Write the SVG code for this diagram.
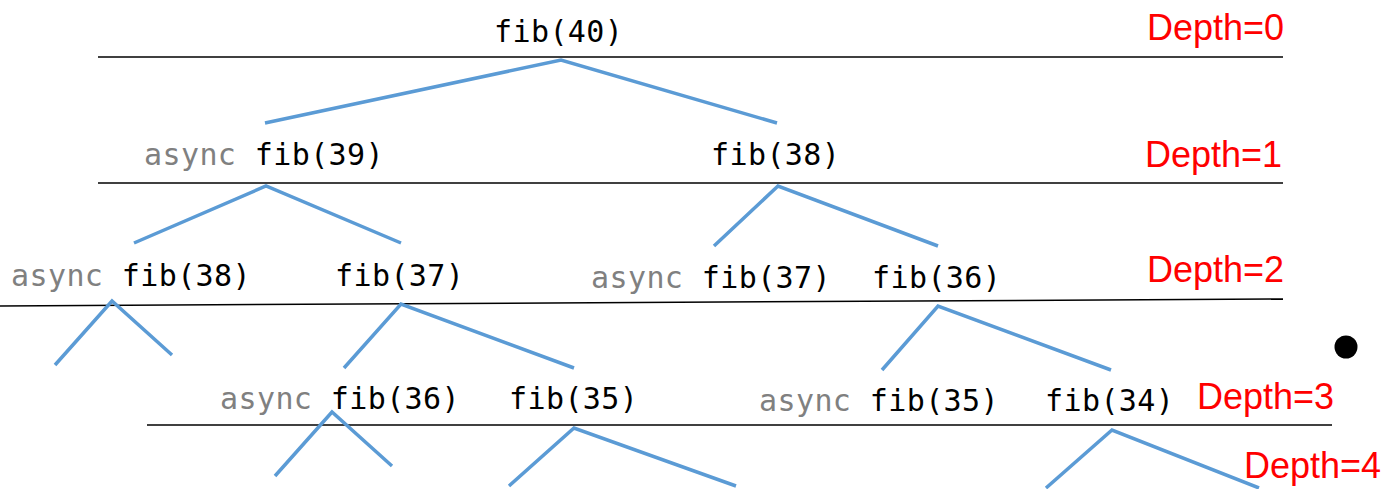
<svg xmlns="http://www.w3.org/2000/svg" width="1384" height="489" viewBox="0 0 1384 489">
<style>
.lvl{stroke:#000;stroke-width:1.5;fill:none}
.edge{stroke:#5B9BD5;stroke-width:3.5;fill:none}
.n{font-family:"DejaVu Sans Mono","Liberation Mono",monospace;font-size:30px;letter-spacing:0.4px;fill:#000}
.a{fill:#808080}
.d{font-family:"Liberation Sans",Arial,sans-serif;font-size:36px;fill:#FF0000;text-anchor:end}
</style>
<rect width="1384" height="489" fill="#fff"/>
<g id="levels">
<line class="lvl" x1="98" y1="57" x2="1283" y2="57"/>
<line class="lvl" x1="98" y1="183" x2="1283" y2="183"/>
<line class="lvl" x1="0" y1="306" x2="1283" y2="299"/>
<line class="lvl" x1="147" y1="425" x2="1332" y2="425"/>
</g>
<g id="connectors">
<polyline class="edge" points="265,123 561,60 777,123"/>
<polyline class="edge" points="134,243 266,186 401,243"/>
<polyline class="edge" points="714,246 778,186 938,246"/>
<polyline class="edge" points="55,365 112,301 172,355"/>
<polyline class="edge" points="344,368 401,304 574,368"/>
<polyline class="edge" points="882,370 938,306 1111,370"/>
<polyline class="edge" points="275,476 332,412 392,466"/>
<polyline class="edge" points="509,486 574,428 736,486"/>
<polyline class="edge" points="1046,488 1112,430 1259,488"/>
</g>
<g id="fib40"><text class="n" x="494" y="42">fib(40)</text></g>
<g id="fib39"><text class="n" x="144" y="165"><tspan class="a">async</tspan> fib(39)</text></g>
<g id="fib38a"><text class="n" x="711" y="165">fib(38)</text></g>
<g id="fib38b"><text class="n" x="11" y="286"><tspan class="a">async</tspan> fib(38)</text></g>
<g id="fib37a"><text class="n" x="335" y="286">fib(37)</text></g>
<g id="fib37b"><text class="n" x="591" y="288"><tspan class="a">async</tspan> fib(37)</text></g>
<g id="fib36a"><text class="n" x="872" y="288">fib(36)</text></g>
<g id="fib36b"><text class="n" x="220" y="409"><tspan class="a">async</tspan> fib(36)</text></g>
<g id="fib35a"><text class="n" x="509" y="409">fib(35)</text></g>
<g id="fib35b"><text class="n" x="759" y="411"><tspan class="a">async</tspan> fib(35)</text></g>
<g id="fib34"><text class="n" x="1045" y="411">fib(34)</text></g>
<g id="depths">
<text class="d" x="1284" y="40">Depth=0</text>
<text class="d" x="1282" y="167">Depth=1</text>
<text class="d" x="1284" y="282">Depth=2</text>
<text class="d" x="1334" y="409">Depth=3</text>
<text class="d" x="1381" y="478">Depth=4</text>
</g>
<circle id="dot" cx="1346" cy="347" r="11.5" fill="#000"/>
</svg>
